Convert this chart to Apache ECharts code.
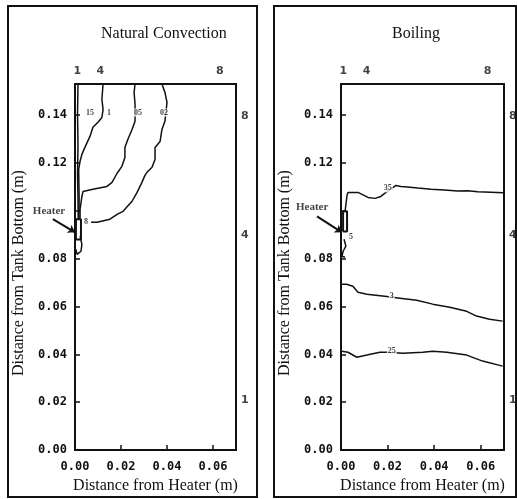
<!DOCTYPE html>
<html>
<head>
<meta charset="utf-8">
<script src="https://cdn.jsdelivr.net/npm/echarts@6/dist/echarts.min.js"></script>
<style>
  html, body { margin: 0; padding: 0; background: #fff; }
  #chart { width: 517px; height: 499px; }
</style>
</head>
<body>
<div id="chart"></div>
<script>
// axis ticks (m); 0.10 carries no label in the original (the heater sits there)
const xTicks = [0, 0.02, 0.04, 0.06]
const yTicks = [0, 0.02, 0.04, 0.06, 0.08, 0.12, 0.14]
const xMax = 0.07
const yMax = 0.153

// Natural convection contours [distance from heater, height]
const nc15 = [[0.0013, 0.153], [0.0011, 0.140], [0.0013, 0.128], [0.0011, 0.115], [0.0013, 0.105], [0.0014, 0.0965]]
const nc1 = [[0.0122, 0.153], [0.0117, 0.1466], [0.0122, 0.1424], [0.0117, 0.139], [0.0100, 0.137], [0.0078, 0.1349],
  [0.0065, 0.1311], [0.0043, 0.1265], [0.0030, 0.1236], [0.0022, 0.1207], [0.0016, 0.1173], [0.0018, 0.105], [0.0017, 0.0965]]
const nc05 = [[0.0261, 0.153], [0.0257, 0.1495], [0.0261, 0.1445], [0.0261, 0.1374], [0.0248, 0.134], [0.0230, 0.1299],
  [0.0217, 0.1265], [0.0217, 0.1223], [0.0204, 0.1186], [0.0183, 0.1157], [0.0161, 0.1119], [0.0139, 0.1102],
  [0.0078, 0.109], [0.0035, 0.1081], [0.0030, 0.106], [0.0022, 0.1006], [0.0022, 0.0965]]
const nc02 = [[0.0378, 0.153], [0.0391, 0.1495], [0.0400, 0.1453], [0.0391, 0.1374], [0.0378, 0.134], [0.0370, 0.129],
  [0.0348, 0.1265], [0.0348, 0.1215], [0.0335, 0.1182], [0.0313, 0.1161], [0.0304, 0.1148], [0.0291, 0.1119],
  [0.0270, 0.1077], [0.0248, 0.104], [0.0209, 0.0998], [0.0183, 0.0985], [0.0152, 0.0965], [0.0096, 0.0952], [0.0070, 0.0952]]
const ncLoop = [[0.0022, 0.0894], [0.0030, 0.086], [0.0026, 0.0831], [0.0009, 0.0818], [0.0004, 0.0839]]
const ncHeater = [[0.0004, 0.088], [0.0026, 0.088], [0.0026, 0.0965], [0.0004, 0.0965], [0.0004, 0.088]]
const ncLabels = [['15', 0.0065, 0.1411], ['1', 0.0148, 0.1411], ['05', 0.0274, 0.1411], ['02', 0.0387, 0.1411], ['8', 0.0048, 0.0952]]

// Boiling contours
const b35 = [[0.0017, 0.0994], [0.0026, 0.1065], [0.0030, 0.1077], [0.0073, 0.1077], [0.0116, 0.1056], [0.0146, 0.1052],
  [0.0171, 0.106], [0.0193, 0.1077], [0.0236, 0.1106], [0.0257, 0.1102], [0.0273, 0.1101], [0.0330, 0.1095],
  [0.0387, 0.109], [0.0444, 0.1087], [0.0501, 0.1083], [0.0544, 0.1084], [0.0587, 0.108], [0.0644, 0.1078], [0.0697, 0.1076]]
const b3 = [[0.0003, 0.0693], [0.0024, 0.0693], [0.0051, 0.0685], [0.0073, 0.066], [0.0111, 0.0651], [0.0188, 0.0643],
  [0.0253, 0.0635], [0.0325, 0.0626], [0.0394, 0.061], [0.0467, 0.0597], [0.0540, 0.058], [0.0582, 0.056],
  [0.0638, 0.0547], [0.0694, 0.0539]]
const b25 = [[0.0003, 0.0413], [0.0030, 0.0409], [0.0068, 0.0388], [0.0111, 0.0397], [0.0167, 0.0409], [0.0197, 0.0409],
  [0.0266, 0.0405], [0.0351, 0.0409], [0.0394, 0.0413], [0.0454, 0.0409], [0.0540, 0.0397], [0.0608, 0.0372], [0.0694, 0.0351]]
const bLoop = [[0.0013, 0.0881], [0.0021, 0.0852], [0.0009, 0.0831], [0.0004, 0.081], [0.0017, 0.0806]]
const bHeater = [[0.0009, 0.0914], [0.0026, 0.0914], [0.0026, 0.0998], [0.0009, 0.0998], [0.0009, 0.0914]]
const bLabels = [['35', 0.0201, 0.1094], ['5', 0.0043, 0.0889], ['3', 0.0218, 0.0643], ['25', 0.0218, 0.0413]]

// thermocouple rake numbers (top edge and right edge)
const topRakes = [['1', 0.001], ['4', 0.011], ['8', 0.063]]
const sideRakes = [['8', 0.1395], ['4', 0.0898], ['1', 0.0209]]

// heater callouts: [text pos, arrow start, arrow tip]
const ncHeaterNote = [[-0.0113, 0.0998], [-0.0096, 0.0965], [0.0, 0.091]]
const bHeaterNote = [[-0.0124, 0.1015], [-0.0103, 0.0977], [0.0004, 0.091]]

const INK = '#111'
const SERIF = 'Liberation Serif'

const chart = echarts.init(document.getElementById('chart'), null, { renderer: 'canvas' })

function axisX(i) {
  return {
    type: 'value', gridIndex: i, min: 0, max: xMax, interval: 0.02,
    name: 'Distance from Heater (m)', nameLocation: 'middle', nameGap: 24,
    nameTextStyle: { fontFamily: SERIF, fontSize: 16, color: INK },
    axisLine: { show: true, lineStyle: { color: INK, width: 2 } },
    axisTick: { inside: true, length: 5, lineStyle: { color: INK, width: 1.5 } },
    axisLabel: {
      showMaxLabel: false, margin: 11, color: INK, fontFamily: 'DejaVu Sans Mono', fontWeight: 'bold', fontSize: 12,
      formatter: v => xTicks.some(t => Math.abs(t - v) < 1e-9) ? v.toFixed(2) : ''
    },
    splitLine: { show: false }
  }
}
function axisY(i) {
  return {
    type: 'value', gridIndex: i, min: 0, max: yMax, interval: 0.02,
    name: 'Distance from Tank Bottom (m)', nameLocation: 'middle', nameGap: 48,
    nameTextStyle: { fontFamily: SERIF, fontSize: 16, color: INK, padding: [0, 12, 0, 0] },
    axisLine: { show: true, lineStyle: { color: INK, width: 2 } },
    axisTick: { inside: true, length: 5, lineStyle: { color: INK, width: 1.5 } },
    axisLabel: {
      showMaxLabel: false, margin: 8, color: INK, fontFamily: 'DejaVu Sans Mono', fontWeight: 'bold', fontSize: 12,
      formatter: v => yTicks.some(t => Math.abs(t - v) < 1e-9) ? v.toFixed(2) : ''
    },
    splitLine: { show: false }
  }
}

function contour(data, i, width) {
  return {
    type: 'line', xAxisIndex: i, yAxisIndex: i, data: data, symbol: 'none', silent: true,
    lineStyle: { color: INK, width: width || 1.5 }
  }
}
function labels(list, i) {
  return {
    type: 'scatter', xAxisIndex: i, yAxisIndex: i, symbolSize: 0, silent: true, clip: false, z: 5,
    data: list.map(d => ({ name: d[0], value: [d[1], d[2]] })),
    label: {
      show: true, position: 'inside', formatter: '{b}', color: INK, backgroundColor: '#fff', padding: [0, 1],
      fontFamily: SERIF, fontWeight: 'bold', fontSize: 8
    }
  }
}
function rakes(i) {
  return [{
    type: 'scatter', xAxisIndex: i, yAxisIndex: i, symbolSize: 0, silent: true, clip: false,
    data: topRakes.map(d => ({ name: d[0], value: [d[1], yMax] })),
    label: { show: true, position: 'top', distance: 7, formatter: '{b}', color: INK, fontFamily: 'DejaVu Sans', fontWeight: 'bold', fontSize: 11 }
  }, {
    type: 'scatter', xAxisIndex: i, yAxisIndex: i, symbolSize: 0, silent: true, clip: false,
    data: sideRakes.map(d => ({ name: d[0], value: [xMax, d[1]] })),
    label: { show: true, position: 'right', distance: 5, formatter: '{b}', color: INK, fontFamily: 'DejaVu Sans', fontWeight: 'bold', fontSize: 11 }
  }]
}
function heaterNote(note, i) {
  return [{
    type: 'lines', coordinateSystem: 'cartesian2d', xAxisIndex: i, yAxisIndex: i, clip: false, silent: true,
    symbol: ['none', 'arrow'], symbolSize: 7,
    lineStyle: { color: INK, width: 2, opacity: 1 },
    data: [{ coords: [note[1], note[2]] }]
  }, {
    type: 'scatter', xAxisIndex: i, yAxisIndex: i, symbolSize: 0, silent: true, clip: false,
    data: [{ name: 'Heater', value: note[0] }],
    label: { show: true, position: 'inside', formatter: '{b}', color: INK, fontFamily: SERIF, fontWeight: 'bold', fontSize: 11 }
  }]
}

chart.setOption({
  animation: false,
  backgroundColor: '#fff',
  title: [
    { text: 'Natural Convection', left: 96, top: 21, textStyle: { fontFamily: SERIF, fontSize: 16, fontWeight: 'normal', color: INK } },
    { text: 'Boiling', left: 387, top: 21, textStyle: { fontFamily: SERIF, fontSize: 16, fontWeight: 'normal', color: INK } }
  ],
  graphic: [
    { type: 'rect', shape: { x: 8, y: 6, width: 249, height: 491 }, style: { fill: 'none', stroke: INK, lineWidth: 2 }, silent: true },
    { type: 'rect', shape: { x: 274, y: 6, width: 242, height: 491 }, style: { fill: 'none', stroke: INK, lineWidth: 2 }, silent: true }
  ],
  grid: [
    { left: 75, top: 84, width: 161, height: 367, show: true, borderColor: INK, borderWidth: 2, backgroundColor: 'transparent' },
    { left: 341, top: 84, width: 163, height: 367, show: true, borderColor: INK, borderWidth: 2, backgroundColor: 'transparent' }
  ],
  xAxis: [axisX(0), axisX(1)],
  yAxis: [axisY(0), axisY(1)],
  series: [
    contour(nc15, 0), contour(nc1, 0), contour(nc05, 0), contour(nc02, 0), contour(ncLoop, 0),
    contour(ncHeater, 0, 2),
    labels(ncLabels, 0),
    ...rakes(0),
    ...heaterNote(ncHeaterNote, 0),
    contour(b35, 1), contour(b3, 1), contour(b25, 1), contour(bLoop, 1),
    contour(bHeater, 1, 2),
    labels(bLabels, 1),
    ...rakes(1),
    ...heaterNote(bHeaterNote, 1)
  ]
})
</script>
</body>
</html>
